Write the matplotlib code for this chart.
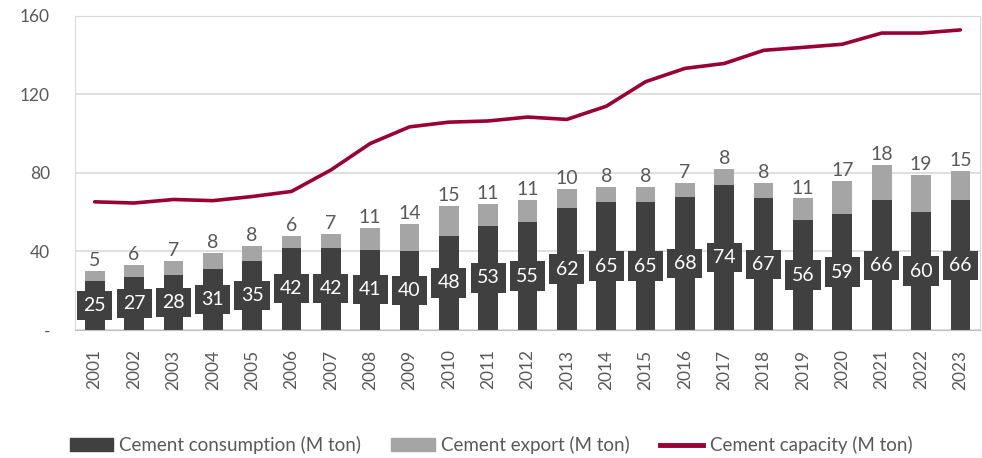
import matplotlib
matplotlib.use('Agg')
import matplotlib.pyplot as plt
from matplotlib.patches import Patch
from matplotlib.lines import Line2D
import numpy as np

plt.rcParams['font.family'] = ['Lato', 'DejaVu Sans']

years = [str(y) for y in range(2001, 2024)]
consumption = [25, 27, 28, 31, 35, 42, 42, 41, 40, 48, 53, 55, 62, 65, 65, 68, 74, 67, 56, 59, 66, 60, 66]
export = [5, 6, 7, 8, 8, 6, 7, 11, 14, 15, 11, 11, 10, 8, 8, 7, 8, 8, 11, 17, 18, 19, 15]
capacity = [65.3, 64.7, 66.5, 65.9, 68.0, 70.6, 81.5, 95.0, 103.5, 105.9, 106.5, 108.5, 107.3, 114.0,
            126.5, 133.3, 135.8, 142.5, 144.0, 145.6, 151.3, 151.3, 152.9]

dark = '#404040'
light = '#A5A5A5'
red = '#990033'
txt = '#595959'

fig = plt.figure(figsize=(9.82, 4.58), dpi=100)
ax = fig.add_axes([0.0764, 0.2795, 0.9216, 0.6856])

x = np.arange(len(years))
ax.bar(x, consumption, width=0.5, color=dark, zorder=2)
ax.bar(x, export, width=0.5, bottom=consumption, color=light, zorder=2)
ax.plot(x, capacity, color=red, lw=2.6, zorder=3, solid_capstyle='round')

for i in range(len(years)):
    ax.text(x[i], consumption[i] / 2, str(consumption[i]), ha='center', va='center',
            color='white', fontsize=14, zorder=4,
            bbox=dict(boxstyle='square,pad=0.32', fc=dark, ec='none'))
    ax.text(x[i], consumption[i] + export[i] + 1, str(export[i]), ha='center', va='bottom',
            color=txt, fontsize=14, zorder=4)

ax.set_xlim(-0.5, len(years) - 0.5)
ax.set_ylim(0, 160)
ax.set_yticks([0, 40, 80, 120, 160])
ax.set_yticklabels(['-', '40', '80', '120', '160'])
ax.set_xticks(x)
ax.set_xticklabels(years, rotation=90)
ax.tick_params(axis='both', length=0, colors=txt, labelsize=12.5)
ax.tick_params(axis='x', pad=14)
ax.tick_params(axis='y', pad=18)

ax.grid(axis='y', color='#D9D9D9', lw=1.2, zorder=0)
for side in ['left', 'right', 'top']:
    ax.spines[side].set_color('#D9D9D9')
ax.spines['bottom'].set_color('#BFBFBF')

handles = [Patch(color=dark), Patch(color=light), Line2D([0], [0], color=red, lw=3.5)]
labels = ['Cement consumption (M ton)', 'Cement export (M ton)', 'Cement capacity (M ton)']
fig.legend(handles, labels, loc='center', bbox_to_anchor=(0.5, 0.028), ncol=3, frameon=False,
           fontsize=13.5, labelcolor=txt, handlelength=2.3, handleheight=0.65, columnspacing=1.6,
           handletextpad=0.35)

fig.savefig('out.png', dpi=100)
